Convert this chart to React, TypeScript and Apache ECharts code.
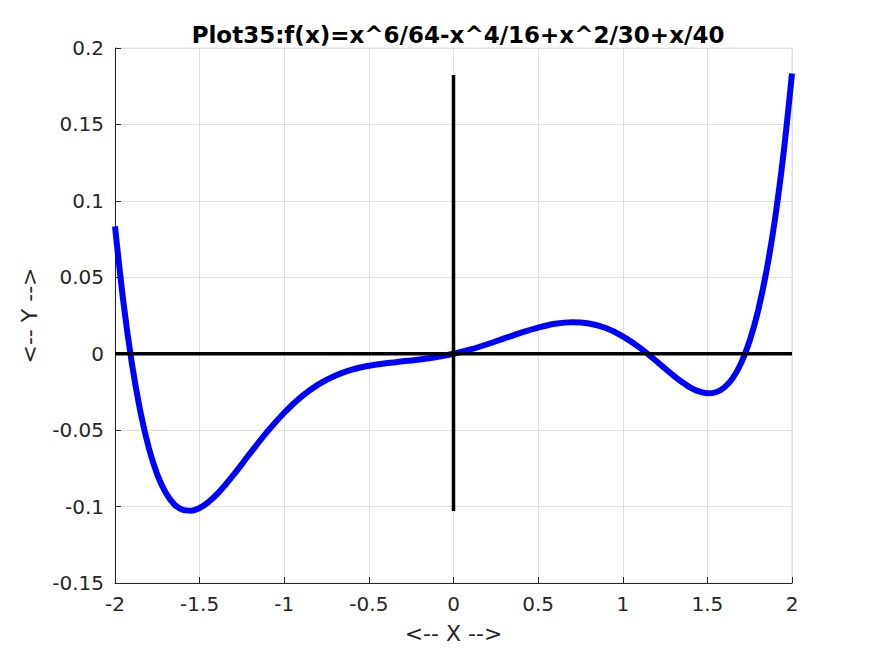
import React, { useEffect, useRef } from "react";
import * as echarts from "echarts";

const xs = [-2, -1.95, -1.9, -1.85, -1.8, -1.75, -1.7, -1.65, -1.6, -1.55, -1.5, -1.45, -1.4, -1.35, -1.3, -1.25, -1.2, -1.1, -1.0, -0.9, -0.8, -0.7, -0.6, -0.5, -0.4, -0.3, -0.2, -0.1, 0, 0.1, 0.2, 0.3, 0.4, 0.5, 0.6, 0.7, 0.8, 0.9, 1.0, 1.1, 1.2, 1.25, 1.3, 1.35, 1.4, 1.45, 1.5, 1.55, 1.6, 1.65, 1.7, 1.75, 1.8, 1.85, 1.9, 1.95, 2.0];
const ys = [0.0833, 0.0334, -0.0066, -0.0379, -0.0617, -0.0791, -0.0910, -0.0985, -0.1021, -0.1027, -0.1009, -0.0972, -0.0922, -0.0860, -0.0793, -0.0722, -0.0649, -0.051, -0.0386, -0.0282, -0.0202, -0.0144, -0.0104, -0.0079, -0.0062, -0.005, -0.0038, -0.0022, 0, 0.0028, 0.0062, 0.01, 0.0138, 0.0171, 0.0196, 0.0206, 0.0198, 0.0168, 0.0114, 0.004, -0.0049, -0.0097, -0.0143, -0.0185, -0.0222, -0.0247, -0.0259, -0.0252, -0.0221, -0.0160, -0.0060, 0.0085, 0.0283, 0.0547, 0.0884, 0.131, 0.1833];
const hLineX = [-2, 2];
const hLineY = [0, 0];
const vLineX = [0, 0];
const vLineY = [-0.1029, 0.1823];
const titleText = "Plot35:f(x)=x^6/64-x^4/16+x^2/30+x/40";

export default function App() {
  const ref = useRef<HTMLDivElement>(null);
  useEffect(() => {
    const chart = echarts.init(ref.current!, null, { renderer: "svg" });
    const font = "DejaVu Sans";
    chart.setOption({
      animation: false,
      backgroundColor: "#ffffff",
      title: {
        text: titleText,
        left: 453,
        textAlign: "center",
        top: 18,
        textStyle: { fontFamily: font, fontWeight: "bold", fontSize: 23, color: "#000" },
      },
      grid: { left: 115, right: 83, top: 48, bottom: 73, show: true, borderColor: "#dfdfdf", borderWidth: 1 },
      xAxis: {
        type: "value",
        min: -2,
        max: 2,
        interval: 0.5,
        name: "<-- X -->",
        nameLocation: "middle",
        nameGap: 39,
        nameTextStyle: { fontFamily: font, fontSize: 22, color: "#262626" },
        axisLine: { show: true, onZero: false, lineStyle: { color: "#262626", width: 1 } },
        axisTick: { show: true, inside: true, length: 6, lineStyle: { color: "#262626" } },
        axisLabel: { fontFamily: font, fontSize: 20, color: "#262626", margin: 11 },
        splitLine: { show: true, lineStyle: { color: "#dfdfdf", width: 1 } },
      },
      yAxis: {
        type: "value",
        min: -0.15,
        max: 0.2,
        interval: 0.05,
        name: "<-- Y -->",
        nameLocation: "middle",
        nameGap: 75,
        nameTextStyle: { fontFamily: font, fontSize: 22, color: "#262626" },
        axisLine: { show: true, onZero: false, lineStyle: { color: "#262626", width: 1 } },
        axisTick: { show: true, inside: true, length: 6, lineStyle: { color: "#262626" } },
        axisLabel: {
          fontFamily: font,
          fontSize: 20,
          color: "#262626",
          margin: 11,
          formatter: (v: number) => String(Math.round(v * 100) / 100),
        },
        splitLine: { show: true, lineStyle: { color: "#dfdfdf", width: 1 } },
      },
      series: [
        {
          type: "line",
          data: xs.map((x, i) => [x, ys[i]]),
          smooth: 0.3,
          showSymbol: false,
          lineStyle: { color: "#0000ff", width: 6 },
          z: 2,
        },
        {
          type: "line",
          data: hLineX.map((x, i) => [x, hLineY[i]]),
          showSymbol: false,
          lineStyle: { color: "#000000", width: 3.5 },
          z: 3,
        },
        {
          type: "line",
          data: vLineX.map((x, i) => [x, vLineY[i]]),
          showSymbol: false,
          lineStyle: { color: "#000000", width: 3.5 },
          z: 3,
        },
      ],
    });
    return () => chart.dispose();
  }, []);
  return <div ref={ref} style={{ width: 875, height: 656, position: "absolute", left: 0, top: 0 }} />;
}
